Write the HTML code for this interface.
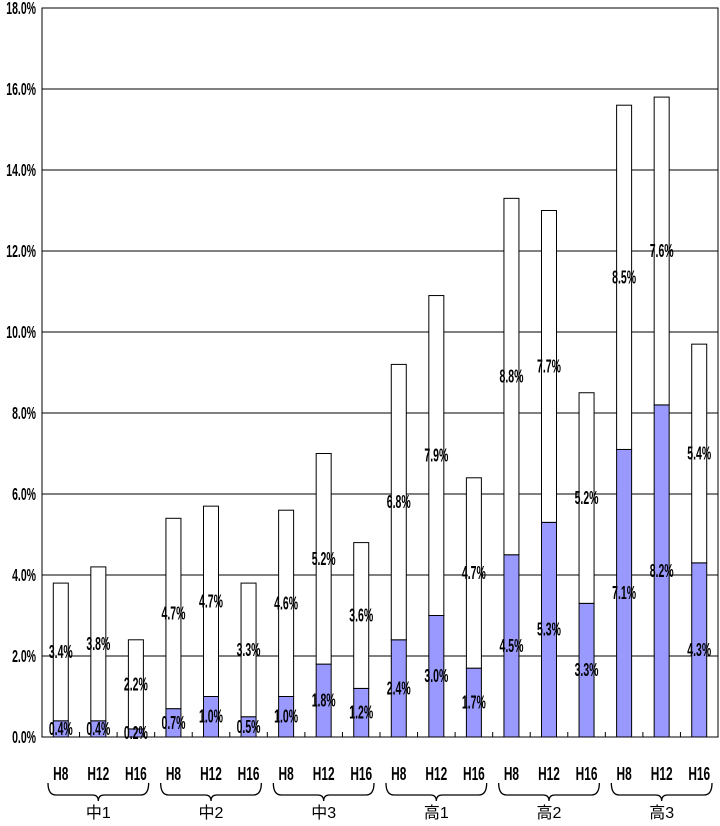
<!DOCTYPE html>
<html><head><meta charset="utf-8"><style>
body{margin:0;background:#fff;width:720px;height:821px;overflow:hidden}
svg text{font-family:"Liberation Sans","Noto Sans CJK JP",sans-serif}
.v{font-weight:bold;font-size:14px;fill:#000}
</style></head><body>
<svg id="chart" width="720" height="821" xmlns="http://www.w3.org/2000/svg"></svg>
<script>
const years=["H8","H12","H16"];
const groups=["中1","中2","中3","高1","高2","高3"];
const lower=[0.4,0.4,0.2,0.7,1.0,0.5,1.0,1.8,1.2,2.4,3.0,1.7,4.5,5.3,3.3,7.1,8.2,4.3];
const upper=[3.4,3.8,2.2,4.7,4.7,3.3,4.6,5.2,3.6,6.8,7.9,4.7,8.8,7.7,5.2,8.5,7.6,5.4];
const yTicks=[0,2,4,6,8,10,12,14,16,18];
const NS="http://www.w3.org/2000/svg";
const svg=document.getElementById("chart");
const L=42,R=718,Y0=737,PER=40.5;
const n=lower.length,cw=(R-L)/n,bw=15;
const y=v=>Y0-v*PER;
const cx=i=>L+cw*(i+0.5);
function mk(t,a){const e=document.createElementNS(NS,t);for(const k in a)e.setAttribute(k,a[k]);svg.appendChild(e);return e;}
function sc(x,yy,sx,sy){return `translate(${x},${yy}) scale(${sx},${sy}) translate(${-x},${-yy})`;}
mk("rect",{x:L,y:y(18),width:R-L,height:Y0-y(18),fill:"#fff",stroke:"#000"});
yTicks.forEach(t=>{
  const g=mk("line",{x1:L,x2:R,y1:y(t),y2:y(t),stroke:"#000","stroke-width":1});
  
  
  const ty=y(t)+6;
  const tx=mk("text",{x:L-6,y:ty,"text-anchor":"end",class:"v",transform:sc(L-6,ty,0.75,1.25)});
  tx.textContent=t.toFixed(1)+"%";
  
  
});
for(let i=0;i<=n;i++){mk("line",{x1:L+cw*i,x2:L+cw*i,y1:Y0,y2:Y0-5,stroke:"#000"});}
lower.forEach((lv,i)=>{
  const uv=upper[i];
  const b=mk("rect",{x:cx(i)-bw/2,y:y(lv),width:bw,height:Y0-y(lv),fill:"#9999ff",stroke:"#000","stroke-width":1});
  
  
  const u=mk("rect",{x:cx(i)-bw/2,y:y(lv+uv),width:bw,height:y(lv)-y(lv+uv),fill:"#fff",stroke:"#000","stroke-width":1});
  
  
  [[lv,lv/2],[uv,lv+uv/2]].forEach(([val,mid])=>{
    const yy=y(mid)+6;
    const t=mk("text",{x:cx(i),y:yy,"text-anchor":"middle",class:"v",transform:sc(cx(i),yy,0.75,1.3)});
    t.textContent=val.toFixed(1)+"%";
    
    
  });
  const yl=mk("text",{x:cx(i),y:780,"text-anchor":"middle",class:"v",transform:sc(cx(i),780,0.85,1.35)});
  yl.textContent=years[i%3];
  
  
});
groups.forEach((g,j)=>{
  const x1=L+cw*3*j+6,x2=L+cw*3*(j+1)-6,m=(x1+x2)/2;
  const p=mk("path",{d:`M${x1},783 Q${x1},795 ${x1+8},795 L${m-6},795 Q${m},795 ${m},801 Q${m},795 ${m+6},795 L${x2-8},795 Q${x2},795 ${x2},783`,fill:"none",stroke:"#000","stroke-width":1.3});
  
  
  const t=mk("text",{x:m,y:818,"text-anchor":"middle","font-size":16});
  t.textContent=g;
  
  
});
</script>
</body></html>
